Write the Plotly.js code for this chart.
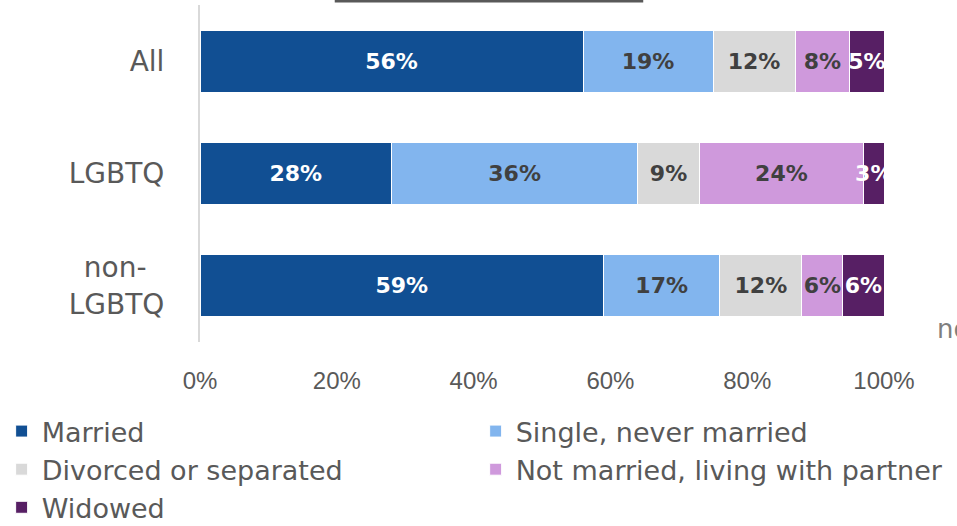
<!DOCTYPE html>
<html>
<head>
<meta charset="utf-8">
<script src="https://cdn.plot.ly/plotly-3.0.1.min.js"></script>
<style>html,body{margin:0;padding:0;background:#fff;}#chart{width:957px;height:526px;}</style>
</head>
<body>
<div id="chart"></div>
<script>
const categories = ["All", "LGBTQ", "non-&nbsp;&nbsp;<br>LGBTQ"];
const seriesNames = ["Married", "Single, never married", "Divorced or separated", "Not married, living with partner", "Widowed"];
const married = [56, 28, 59];
const single = [19, 36, 17];
const divorced = [12, 9, 12];
const partner = [8, 24, 6];
const widowed = [5, 3, 6];
const xTickVals = [0, 20, 40, 60, 80, 100];
const xTickText = ["0%", "20%", "40%", "60%", "80%", "100%"];

const seriesValues = [married, single, divorced, partner, widowed];
const colors = ["#114F93", "#82B5EE", "#D9D9D9", "#CF99DC", "#571F64"];
const textColors = ["#FFFFFF", "#404040", "#404040", "#404040", "#FFFFFF"];
const legendIds = ["legend", "legend2", "legend", "legend2", "legend"];

const traces = seriesNames.map((name, i) => ({
  type: "bar",
  orientation: "h",
  name: name,
  legend: legendIds[i],
  y: categories,
  x: seriesValues[i],
  text: seriesValues[i].map(v => v + "%"),
  textposition: "inside",
  insidetextanchor: "middle",
  constraintext: "none",
  textangle: 0,
  textfont: { family: "DejaVu Sans", size: 22, color: textColors[i], weight: "bold" },
  marker: { color: colors[i], line: { color: "#FFFFFF", width: 1 } },
  hoverinfo: "none",
  cliponaxis: true
}));

const legendStyle = {
  orientation: "v",
  xref: "paper",
  yref: "paper",
  xanchor: "left",
  y: -0.193,
  yanchor: "top",
  traceorder: "normal",
  font: { family: "DejaVu Sans", size: 27, color: "#595959" },
  bgcolor: "rgba(0,0,0,0)",
  borderwidth: 0
};

const layout = {
  width: 957,
  height: 526,
  margin: { l: 200, r: 73, t: 5, b: 184, pad: 0, autoexpand: false },
  paper_bgcolor: "#FFFFFF",
  plot_bgcolor: "#FFFFFF",
  barmode: "stack",
  bargap: 0.45,
  showlegend: true,
  xaxis: {
    range: [0, 100],
    tickmode: "array",
    tickvals: xTickVals,
    ticktext: xTickText,
    showgrid: false,
    zeroline: false,
    showline: false,
    ticks: "",
    ticklabelstandoff: 22,
    tickfont: { family: "Liberation Sans", size: 24, color: "#595959" },
    fixedrange: true
  },
  yaxis: {
    autorange: "reversed",
    showgrid: false,
    zeroline: false,
    showline: true,
    linecolor: "#D9D9D9",
    linewidth: 2,
    ticks: "",
    ticklabelstandoff: 28,
    tickfont: { family: "DejaVu Sans", size: 28, color: "#595959" },
    fixedrange: true
  },
  legend: Object.assign({}, legendStyle, { x: -0.29 }),
  legend2: Object.assign({}, legendStyle, { x: 0.403 }),
  shapes: [{
    type: "line",
    xref: "paper",
    yref: "paper",
    x0: 0.197,
    x1: 0.648,
    y0: 1.012,
    y1: 1.012,
    line: { color: "#595959", width: 3 }
  }],
  annotations: [{
    xref: "paper",
    yref: "paper",
    x: 1.075,
    y: 0.04,
    xanchor: "left",
    yanchor: "middle",
    text: "non-LGBTQ",
    showarrow: false,
    font: { family: "DejaVu Sans", size: 26, color: "#7F7F7F" }
  }]
};

Plotly.newPlot("chart", traces, layout, { displayModeBar: false, staticPlot: true });
</script>
</body>
</html>
